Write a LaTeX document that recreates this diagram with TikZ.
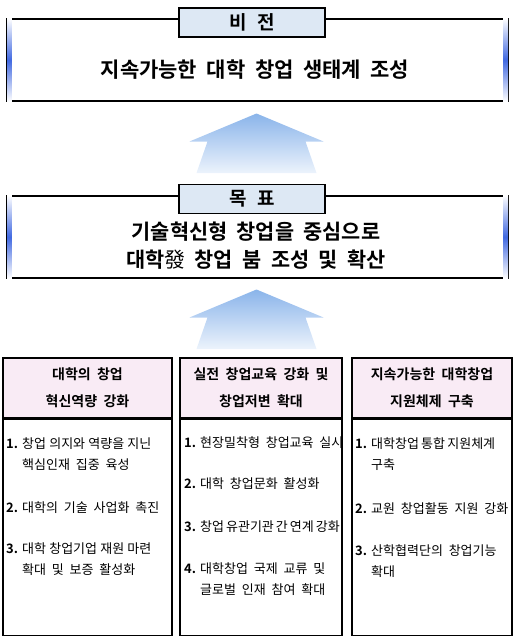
\documentclass[tikz,border=0pt]{standalone}
\usepackage{fontspec}
\setmainfont{Noto Sans CJK KR}[BoldFont={Noto Sans CJK KR Bold}, WordSpace=2]
\usetikzlibrary{positioning}
\definecolor{titlefill}{RGB}{221,232,244}
\definecolor{headfill}{RGB}{249,235,245}
\definecolor{edgeblue}{RGB}{65,105,225}
\definecolor{arrowtop}{RGB}{138,180,234}
\definecolor{arrowbot}{RGB}{236,243,252}
\newcommand{\numitem}[2]{\makebox[16pt][l]{\textbf{#1}}\begin{tabular}[t]{@{}l@{}}#2\end{tabular}}
\newcommand{\tightline}[2][3.2pt]{{\spaceskip=#1 #2}}
\newcommand{\uparrowat}[1]{\shade[blockarrow] (#1) ++(-60,0) -- ++(11,-31.5) -- ++(-18,0) -- ++(67,-28) -- ++(67,28) -- ++(-18,0) -- ++(11,31.5) -- cycle;}

\begin{document}
\begin{tikzpicture}[x=1pt,y=-1pt,
					frame/.style={draw=black, line width=1.2pt, inner sep=0pt},
					titlebox/.style={draw=black, line width=1.2pt, fill=titlefill, minimum width=146pt, minimum height=29pt, font=\bfseries\fontsize{19}{22}\selectfont},
					edgebar/.style={top color=white, bottom color=white, middle color=edgeblue},
					blockarrow/.style={top color=arrowtop, bottom color=arrowbot},
					bigtext/.style={font=\bfseries\fontsize{20.8}{28}\selectfont, align=center},
					headtext/.style={font=\bfseries\fontsize{14}{27}\selectfont, align=center},
					itemtext/.style={font=\fontsize{13}{21.5}\selectfont, anchor=base west, inner sep=0pt}]
	\useasboundingbox (0,0) rectangle (513,637);
	
	% vision
	\node[frame, minimum width=501pt, minimum height=82pt] (vision) at (257.5,60) {};
	\shade[edgebar] ([xshift=0.6pt]vision.north west) rectangle ([xshift=5.5pt]vision.south west);
	\shade[edgebar] ([xshift=-0.6pt]vision.north east) rectangle ([xshift=-5.5pt]vision.south east);
	\node[titlebox] (vistitle) at (252,22.5) {비\hspace{0.55em}전};
	\node[bigtext, font=\bfseries\fontsize{21}{28}\selectfont] (vistext) at (255,70) {지속가능한 대학 창업 생태계 조성};
	
	\coordinate (arr1) at (256.5,173);
	\uparrowat{arr1}
	
	% goal
	\node[frame, minimum width=501pt, minimum height=82pt] (goal) at (257.5,237) {};
	\shade[edgebar] ([xshift=0.6pt]goal.north west) rectangle ([xshift=5.5pt]goal.south west);
	\shade[edgebar] ([xshift=-0.6pt]goal.north east) rectangle ([xshift=-5.5pt]goal.south east);
	\node[titlebox] (goaltitle) at (252,199) {목\hspace{0.55em}표};
	\node[bigtext] (goaltext) at (256,246) {기술혁신형 창업을 중심으로\\대학{\mdseries 發} 창업 붐 조성 및 확산};
	
	\coordinate (arr2) at (256.5,349);
	\uparrowat{arr2}
	
	% strategies
	\node[frame, fill=headfill, minimum width=169pt, minimum height=60pt] (lhead) at (87.5,388) {};
	\node[frame, fill=headfill, minimum width=162pt, minimum height=60pt] (mhead) at (261,388) {};
	\node[frame, fill=headfill, minimum width=160pt, minimum height=60pt] (rhead) at (432,388) {};
	\node[frame, anchor=north, minimum width=169pt, minimum height=216pt] (lbody) at (lhead.south) {};
	\node[frame, anchor=north, minimum width=162pt, minimum height=216pt] (mbody) at (mhead.south) {};
	\node[frame, anchor=north, minimum width=160pt, minimum height=216pt] (rbody) at (rhead.south) {};
	\node[headtext] at (lhead) {대학의 창업\\혁신역량 강화};
	\node[headtext] at (mhead) {실전 창업교육 강화 및\\창업저변 확대};
	\node[headtext] at (rhead) {지속가능한 대학창업\\지원체제 구축};
	
	\node[itemtext] (l1) at (6,448) {\numitem{1.}{\tightline{창업 의지와 역량을 지닌}\\핵심인재 집중 육성}};
	\node[itemtext] (l2) at (6,512) {\numitem{2.}{대학의 기술 사업화 촉진}};
	\node[itemtext] (l3) at (6,553) {\numitem{3.}{\tightline{대학 창업기업 재원 마련}\\확대 및 보증 활성화}};
	
	\node[itemtext] (m1) at (184,447) {\numitem{1.}{현장밀착형 창업교육 실시}};
	\node[itemtext] (m2) at (184,488) {\numitem{2.}{대학 창업문화 활성화}};
	\node[itemtext] (m3) at (184,531) {\numitem{3.}{\tightline[2pt]{창업 유관기관 간 연계 강화}}};
	\node[itemtext] (m4) at (184,573) {\numitem{4.}{대학창업 국제 교류 및\\글로벌 인재 참여 확대}};
	
	\node[itemtext] (r1) at (355,448) {\numitem{1.}{\tightline[2.2pt]{대학창업 통합 지원체계}\\구축}};
	\node[itemtext] (r2) at (355,513) {\numitem{2.}{교원 창업활동 지원 강화}};
	\node[itemtext] (r3) at (355,555) {\numitem{3.}{산학협력단의 창업기능\\확대}};
\end{tikzpicture}
\end{document}
